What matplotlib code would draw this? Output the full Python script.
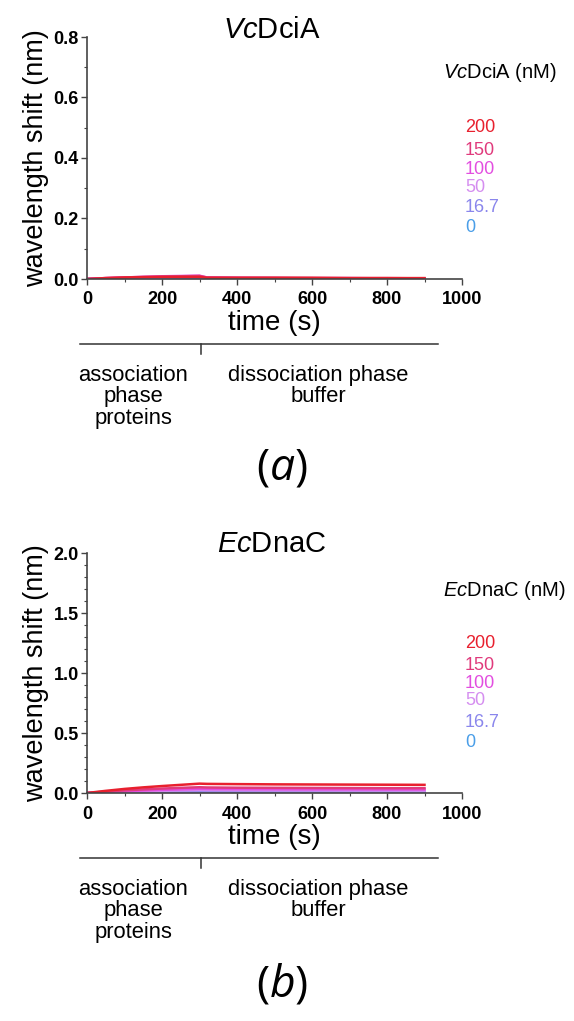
import matplotlib
matplotlib.use("Agg")
import matplotlib.pyplot as plt
from matplotlib.ticker import MultipleLocator

plt.rcParams['font.family'] = ['Liberation Sans', 'DejaVu Sans']
plt.rcParams['mathtext.fontset'] = 'custom'
plt.rcParams['mathtext.rm'] = 'Liberation Sans'
plt.rcParams['mathtext.sf'] = 'Liberation Sans:italic'
plt.rcParams['mathtext.it'] = 'Open Sans:italic'

# ---------------- data ----------------
time_s = [0, 50, 100, 150, 200, 250, 300, 320, 400, 500, 600, 700, 800, 900]
conc_labels = ["200", "150", "100", "50", "16.7", "0"]
conc_colors = ["#e8202e", "#e03a7c", "#e24ee0", "#d58ef0", "#8a86ec", "#4a9ee8"]

vc_200 = [0, 0.003, 0.005, 0.006, 0.007, 0.007, 0.007, 0.004, 0.004, 0.004, 0.004, 0.003, 0.003, 0.003]
vc_150 = [0, 0.003, 0.005, 0.007, 0.008, 0.009, 0.010, 0.005, 0.004, 0.004, 0.003, 0.003, 0.003, 0.002]
vc_100 = [0, 0.003, 0.005, 0.007, 0.009, 0.010, 0.011, 0.005, 0.004, 0.003, 0.003, 0.003, 0.002, 0.002]
vc_50 = [0, 0.002, 0.004, 0.005, 0.006, 0.007, 0.008, 0.004, 0.003, 0.003, 0.002, 0.002, 0.002, 0.002]
vc_16 = [0, 0.001, 0.002, 0.003, 0.003, 0.004, 0.004, 0.002, 0.002, 0.002, 0.001, 0.001, 0.001, 0.001]
vc_0 = [0, 0.001, 0.001, 0.001, 0.002, 0.002, 0.002, 0.001, 0.001, 0.001, 0.001, 0.001, 0.001, 0.001]

ec_200 = [0, 0.018, 0.034, 0.047, 0.058, 0.068, 0.078, 0.076, 0.074, 0.072, 0.071, 0.070, 0.069, 0.068]
ec_150 = [0, 0.012, 0.022, 0.030, 0.037, 0.043, 0.048, 0.046, 0.044, 0.043, 0.042, 0.041, 0.040, 0.040]
ec_100 = [0, 0.008, 0.015, 0.021, 0.026, 0.030, 0.034, 0.033, 0.032, 0.031, 0.030, 0.030, 0.029, 0.029]
ec_50 = [0, 0.006, 0.011, 0.015, 0.019, 0.022, 0.025, 0.024, 0.023, 0.022, 0.022, 0.021, 0.021, 0.020]
ec_16 = [0, 0.003, 0.006, 0.008, 0.010, 0.011, 0.013, 0.012, 0.012, 0.011, 0.011, 0.011, 0.010, 0.010]
ec_0 = [0, 0.001, 0.001, 0.002, 0.002, 0.002, 0.003, 0.003, 0.002, 0.002, 0.002, 0.002, 0.002, 0.002]

vc_series = [vc_200, vc_150, vc_100, vc_50, vc_16, vc_0]
ec_series = [ec_200, ec_150, ec_100, ec_50, ec_16, ec_0]

W, H = 574, 1021
fig = plt.figure(figsize=(W / 100, H / 100), dpi=100)


def fx(px):
    return px / W


def fy(py):
    return 1 - py / H


def make_panel(top_px, bot_px, ymax, ymajor, yminor, series, title, title_y, legend_title,
               leg_y, num_ys, line_y, text_y, letter, letter_y):
    ax = fig.add_axes([fx(87), fy(bot_px), fx(462) - fx(87), fy(top_px) - fy(bot_px)])
    for vals, col in list(zip(series, conc_colors))[::-1]:
        ax.plot(time_s, vals, color=col, lw=1.8)
    ax.set_xlim(0, 1000)
    ax.set_ylim(0, ymax)
    ax.xaxis.set_major_locator(MultipleLocator(200))
    ax.xaxis.set_minor_locator(MultipleLocator(100))
    ax.yaxis.set_major_locator(MultipleLocator(ymajor))
    ax.yaxis.set_minor_locator(MultipleLocator(yminor))
    ax.yaxis.set_major_formatter(plt.FuncFormatter(lambda v, p: f"{v:.1f}"))
    for s in ("top", "right"):
        ax.spines[s].set_visible(False)
    for s in ("left", "bottom"):
        ax.spines[s].set_color("#444444")
        ax.spines[s].set_linewidth(1.2)
    ax.tick_params(which="major", length=4, width=1, color="#444444", pad=2)
    ax.tick_params(axis="x", which="major", pad=5)
    ax.tick_params(which="minor", length=2.5, width=0.8, color="#444444")
    for lab in ax.get_xticklabels() + ax.get_yticklabels():
        lab.set_fontweight("bold")
        lab.set_fontsize(13)
    ax.set_xlabel("time (s)", fontsize=20, labelpad=1)
    ax.set_ylabel("wavelength shift (nm)", fontsize=19.5, labelpad=3)
    fig.text(fx(272), fy(title_y), title, fontsize=21, ha="center", va="center")

    fig.text(fx(443), fy(leg_y), legend_title, fontsize=14.5, ha="left", va="center")
    for lab, col, yy in zip(conc_labels, conc_colors, num_ys):
        fig.text(fx(465), fy(yy), lab, fontsize=13, color=col, ha="left", va="center")

    fig.add_artist(plt.Line2D([fx(80), fx(438)], [fy(line_y), fy(line_y)],
                              color="#333333", lw=1.1))
    fig.add_artist(plt.Line2D([fx(201), fx(201)], [fy(line_y), fy(line_y + 10)],
                              color="#333333", lw=1.1))
    fig.text(fx(133), fy(text_y), "association\nphase\nproteins", fontsize=15.8,
             ha="center", va="top", linespacing=1.02)
    fig.text(fx(318), fy(text_y), "dissociation phase\nbuffer", fontsize=15.8,
             ha="center", va="top", linespacing=1.02)
    fig.text(fx(282), fy(letter_y), letter, fontsize=32, ha="center", va="center",
             family="Open Sans")
    return ax


make_panel(37, 279, 0.8, 0.2, 0.1, vc_series, r"$\mathsf{Vc}$DciA", 30, r"$\mathsf{Vc}$DciA (nM)",
           72, [128, 150, 169, 187, 208, 227], 344, 365, r"($\mathit{a}$)", 468)
make_panel(553, 793, 2.0, 0.5, 0.1, ec_series, r"$\mathsf{Ec}$DnaC", 544, r"$\mathsf{Ec}$DnaC (nM)",
           590, [643, 665, 683, 700, 722, 742], 858, 879, r"($\mathit{b}$)", 985)

fig.savefig("out.png", dpi=100)
